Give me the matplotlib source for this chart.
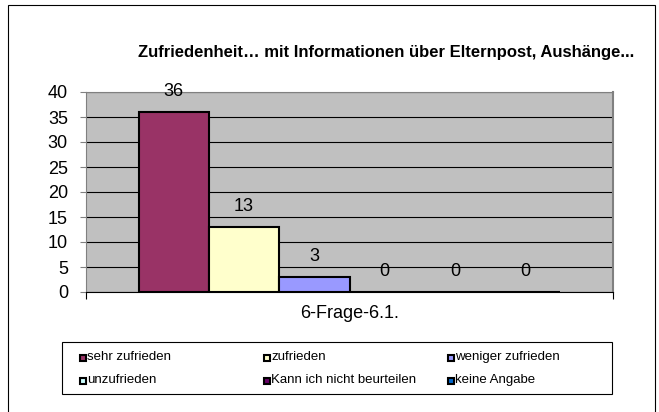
import matplotlib.pyplot as plt
from matplotlib.patches import Rectangle

# data
labels = ["sehr zufrieden", "zufrieden", "weniger zufrieden",
          "unzufrieden", "Kann ich nicht beurteilen", "keine Angabe"]
values = [36, 13, 3, 0, 0, 0]
colors = ["#993366", "#FFFFCC", "#9999FF", "#CCFFFF", "#660066", "#0066CC"]
category = "6-Frage-6.1."
title = "Zufriedenheit… mit Informationen über Elternpost, Aushänge..."

plt.rcParams["font.family"] = ["Liberation Sans", "DejaVu Sans"]

W, H = 659, 412
fig = plt.figure(figsize=(W / 100, H / 100), dpi=100)

# outer frame
fig.patches.append(Rectangle((8 / W, -0.05), 647 / W, 1.05 - 5 / H,
                             transform=fig.transFigure, fill=False,
                             edgecolor="black", linewidth=0.8))

ax = fig.add_axes([86 / W, 120 / H, 527 / W, 200 / H])
ax.set_facecolor("#C0C0C0")

n = len(values)
group_w = 0.8
w = group_w / n
xs = [-group_w / 2 + w * (i + 0.5) for i in range(n)]

for x, v, c in zip(xs, values, colors):
    ax.bar(x, v, width=w, color=c, edgecolor="black", linewidth=1.5, zorder=3)
    ax.annotate(str(v), (x, v), xytext=(0, 14.5), textcoords="offset points",
                ha="center", va="center", fontsize=13, zorder=4)

ax.set_xlim(-0.5, 0.5)
ax.set_ylim(0, 40)
ax.set_yticks(range(0, 41, 5))
ax.yaxis.grid(True, color="black", linewidth=0.8)
ax.set_axisbelow(True)
ax.tick_params(axis="y", labelsize=13, length=4, color="#808080", pad=9)
ax.set_xticks([-0.5, 0.5])
ax.set_xticklabels(["", ""])
ax.tick_params(axis="x", length=5, color="black")
ax.text(0.5, -0.105, category, transform=ax.transAxes, ha="center",
        va="center", fontsize=13)
ax.spines["left"].set_color("#808080")
ax.spines["top"].set_color("#808080")
ax.spines["right"].set_color("#808080")
ax.spines["right"].set_linewidth(1.5)
ax.spines["bottom"].set_color("black")

fig.text(386 / W, 1 - 52 / H, title, ha="center", va="center",
         fontsize=12, fontweight="bold")

# legend box, drawn by hand to get the even column spacing
fig.patches.append(Rectangle((62 / W, 1 - 394 / H), 550 / W, 52 / H,
                             transform=fig.transFigure, fill=False,
                             edgecolor="black", linewidth=0.8))
col_x = [80, 264, 448]
row_y = [357, 380]
for i, (lab, c) in enumerate(zip(labels, colors)):
    cx = col_x[i % 3]
    cy = row_y[i // 3]
    fig.patches.append(Rectangle((cx / W, 1 - (cy + 3.5) / H), 6 / W, 6 / H,
                                 transform=fig.transFigure, facecolor=c,
                                 edgecolor="black", linewidth=1.5))
    fig.text((cx + 7) / W, 1 - cy / H, lab, ha="left", va="center",
             fontsize=9.5)

plt.savefig("out.png", dpi=100)
